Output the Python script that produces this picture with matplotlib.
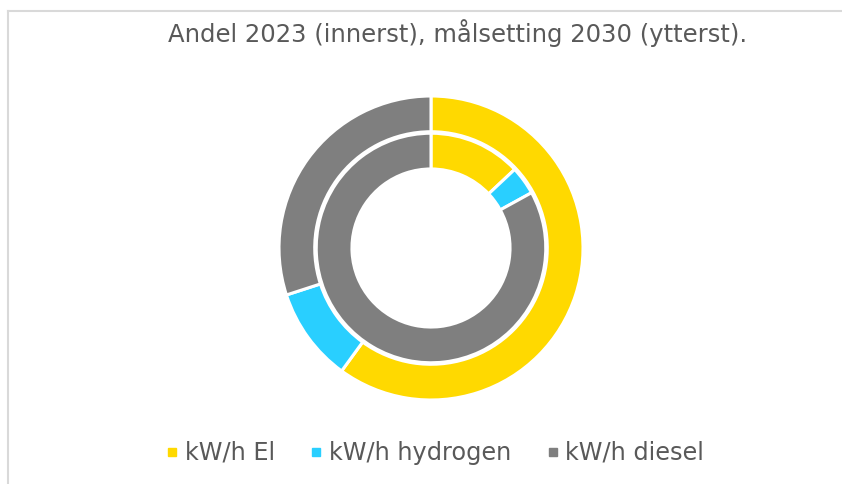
import matplotlib
matplotlib.use("Agg")
import matplotlib.pyplot as plt
from matplotlib.lines import Line2D

title = "Andel 2023 (innerst), målsetting 2030 (ytterst)."
categories = ["kW/h El", "kW/h hydrogen", "kW/h diesel"]
inner_2023 = [13, 4, 83]
outer_2030 = [60, 10, 30]
colors = ["#FFD900", "#29CFFF", "#7F7F7F"]

W, H = 842, 484
fig = plt.figure(figsize=(W / 100, H / 100), dpi=100)
fig.patch.set_facecolor("white")

# border (left and top lines)
fig.add_artist(Line2D([8 / W, 8 / W], [0, 1 - 11 / H], transform=fig.transFigure,
                      color="#D9D9D9", lw=1.5))
fig.add_artist(Line2D([8 / W, 1], [1 - 11 / H, 1 - 11 / H], transform=fig.transFigure,
                      color="#D9D9D9", lw=1.5))

cx, cy, R = 431, 248, 152
half = 170
ax = fig.add_axes([(cx - half) / W, (H - cy - half) / H, 2 * half / W, 2 * half / H])
ax.set_aspect("equal")
ax.axis("off")

wedge_props = dict(edgecolor="white", linewidth=2.2)
outer, _ = ax.pie(outer_2030, radius=1.0, colors=colors, startangle=90, counterclock=False,
                  wedgeprops=dict(width=0.235, **wedge_props))
inner, _ = ax.pie(inner_2023, radius=0.755, colors=colors, startangle=90, counterclock=False,
                  wedgeprops=dict(width=0.235, **wedge_props))
ax.set_xlim(-half / R, half / R)
ax.set_ylim(-half / R, half / R)

fig.text(458 / W, 1 - 33 / H, title, ha="center", va="center", fontsize=17.5,
         color="#595959", family="DejaVu Sans")

handles = [Line2D([], [], marker="s", linestyle="none", markersize=6,
                  markerfacecolor=c, markeredgecolor=c) for c in colors]
leg = fig.legend(handles, categories, loc="center", bbox_to_anchor=(436 / W, 1 - 453 / H),
                 ncol=3, frameon=False, fontsize=17.3, handlelength=0.35, handletextpad=0.35,
                 columnspacing=1.55, labelcolor="#595959", borderpad=0, borderaxespad=0)

fig.savefig("out.png", dpi=100, facecolor="white")
